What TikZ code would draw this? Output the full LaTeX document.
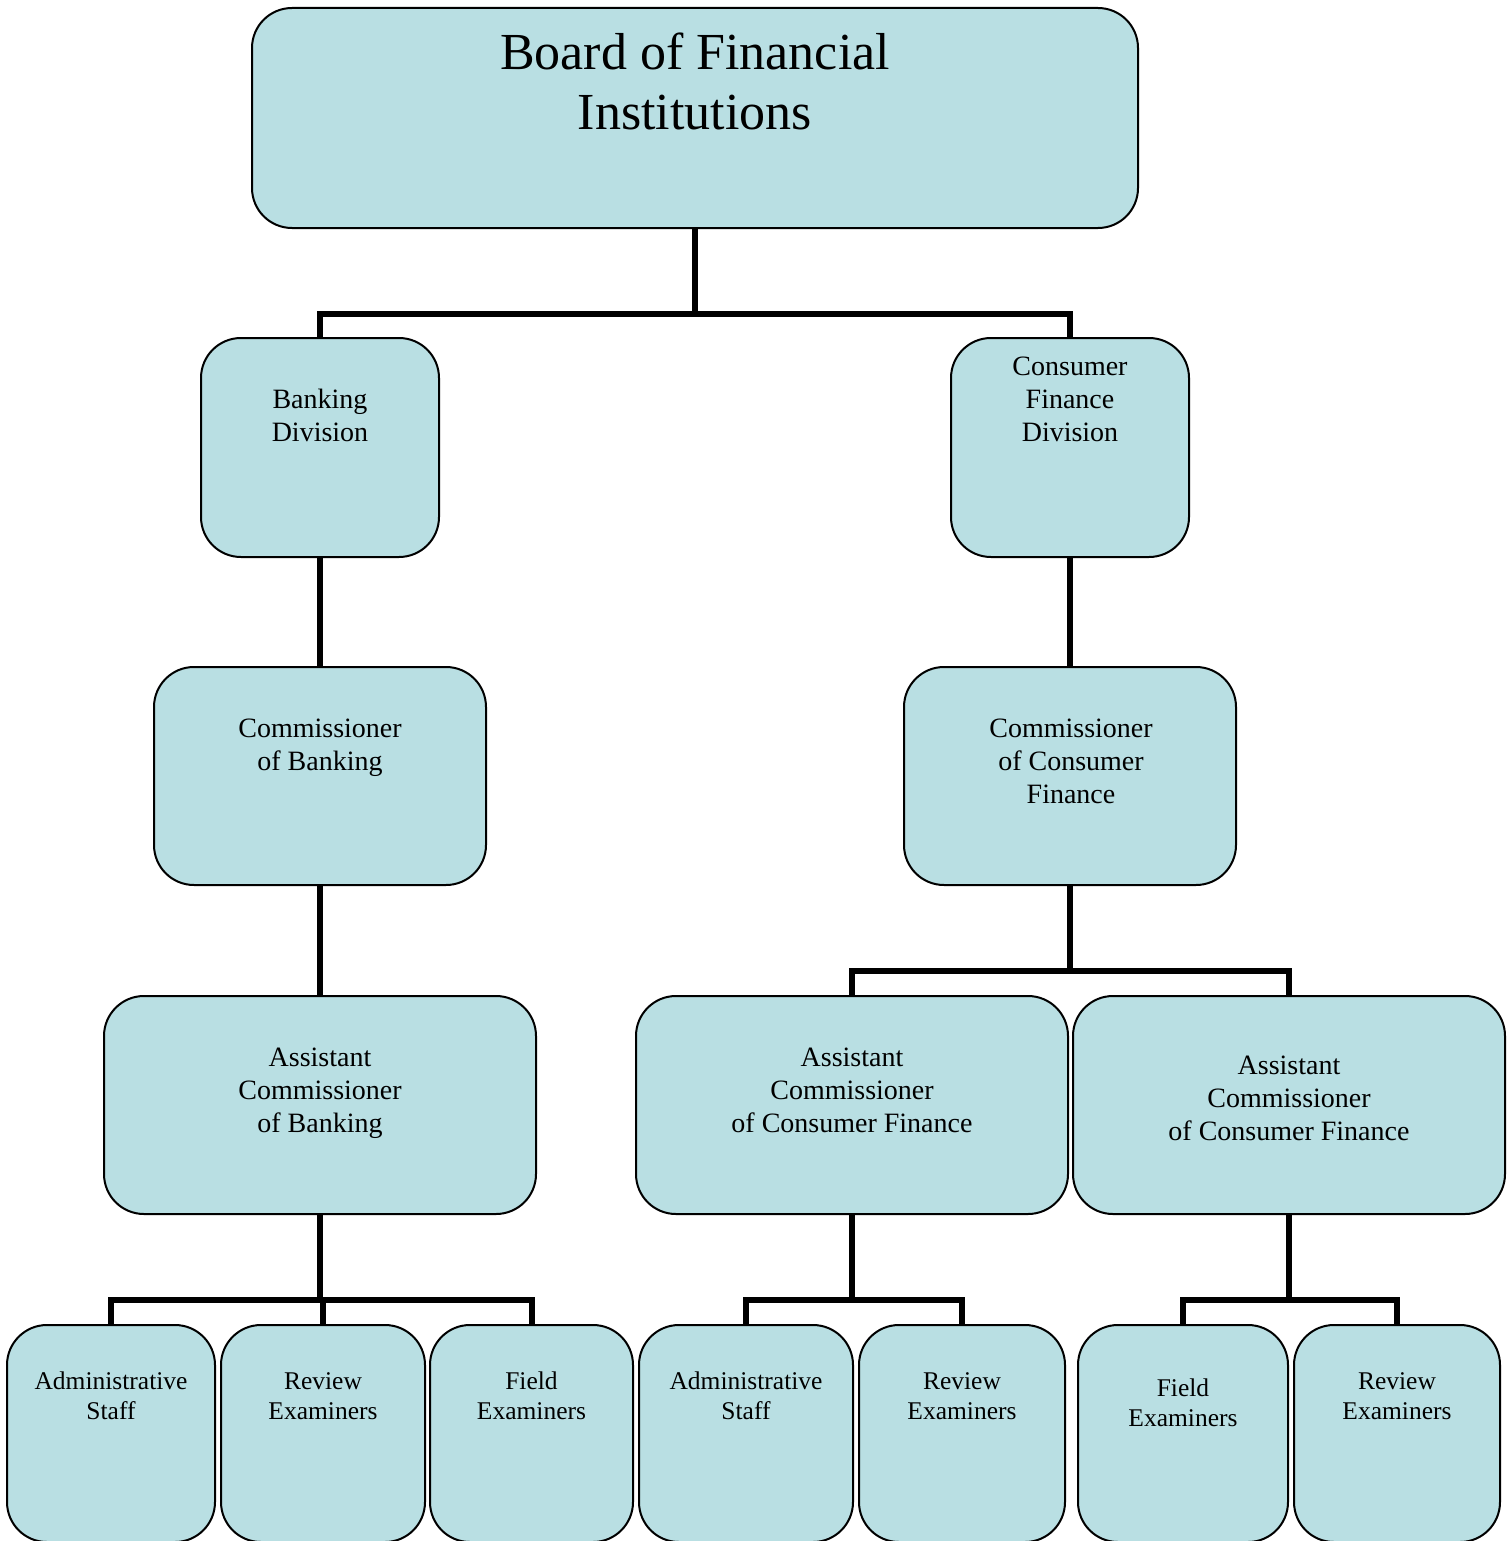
\documentclass[tikz,border=0pt]{standalone}
\usepackage{fontspec}
\setmainfont{Liberation Serif}
\definecolor{boxfill}{HTML}{B9DFE3}
\tikzset{
  box/.style={draw=black, line width=2pt, fill=boxfill, rounded corners=40pt,
    inner sep=0pt, outer sep=0pt, rectangle},
  txt/.style={anchor=north, inner sep=0pt, align=center, text=black},
  bigtxt/.style={txt, font=\fontsize{52}{60}\selectfont},
  midtxt/.style={txt, font=\fontsize{28}{33}\selectfont},
  smalltxt/.style={txt, font=\fontsize{25.5}{30}\selectfont},
  conn/.style={draw=black, line width=6pt, line join=miter},
}
\begin{document}
\begin{tikzpicture}[x=1pt, y=-1pt]
\clip (0,0) rectangle (1508,1541);
\useasboundingbox (0,0) rectangle (1508,1541);
% boxes
\node[box, minimum width=886pt, minimum height=220pt] (board) at (695,118) {};
\node[box, minimum width=238pt, minimum height=219pt] (bank) at (320,447.5) {};
\node[box, minimum width=238pt, minimum height=219pt] (cons) at (1070,447.5) {};
\node[box, minimum width=332pt, minimum height=218pt] (comb) at (320,776) {};
\node[box, minimum width=332pt, minimum height=218pt] (comc) at (1070,776) {};
\node[box, minimum width=432pt, minimum height=218pt] (ab) at (320,1105) {};
\node[box, minimum width=432pt, minimum height=218pt] (acA) at (852,1105) {};
\node[box, minimum width=432pt, minimum height=218pt] (acB) at (1289,1105) {};
\node[box, minimum width=208pt, minimum height=217pt] (adm1) at (111,1433.5) {};
\node[box, minimum width=204pt, minimum height=217pt] (rev1) at (323,1433.5) {};
\node[box, minimum width=203pt, minimum height=217pt] (fld1) at (531.5,1433.5) {};
\node[box, minimum width=214pt, minimum height=217pt] (adm2) at (746,1433.5) {};
\node[box, minimum width=206pt, minimum height=217pt] (rev2) at (962,1433.5) {};
\node[box, minimum width=210pt, minimum height=217pt] (fld2) at (1183,1433.5) {};
\node[box, minimum width=206pt, minimum height=217pt] (rev3) at (1397,1433.5) {};
% texts
\node[bigtxt] (boardT) at (695,27) {\strut Board of Financial\\Institutions};
\node[midtxt] (bankT) at (320,385) {\strut Banking\\Division};
\node[midtxt] (consT) at (1070,352) {\strut Consumer\\Finance\\Division};
\node[midtxt] (combT) at (320,714) {\strut Commissioner\\of Banking};
\node[midtxt] (comcT) at (1071,714) {\strut Commissioner\\of Consumer\\Finance};
\node[midtxt] (abT) at (320,1043) {\strut Assistant\\Commissioner\\of Banking};
\node[midtxt] (acAT) at (852,1043) {\strut Assistant\\Commissioner\\of Consumer Finance};
\node[midtxt] (acBT) at (1289,1051) {\strut Assistant\\Commissioner\\of Consumer Finance};
\node[smalltxt] (adm1T) at (111,1368) {\strut Administrative\\Staff};
\node[smalltxt] (rev1T) at (323,1368) {\strut Review\\Examiners};
\node[smalltxt] (fld1T) at (531.5,1368) {\strut Field\\Examiners};
\node[smalltxt] (adm2T) at (746,1368) {\strut Administrative\\Staff};
\node[smalltxt] (rev2T) at (962,1368) {\strut Review\\Examiners};
\node[smalltxt] (fld2T) at (1183,1375) {\strut Field\\Examiners};
\node[smalltxt] (rev3T) at (1397,1368) {\strut Review\\Examiners};
% junctions
\coordinate (j1) at (695,313.5);
\coordinate (j2) at (1070,971);
\coordinate (j3) at (320,1300);
\coordinate (j4) at (852,1300);
\coordinate (j5) at (1289,1300);
% connectors
\draw[conn] (board.south) -- (j1);
\draw[conn] (bank.north) |- (j1) -| (cons.north);
\draw[conn] (bank.south) -- (comb.north);
\draw[conn] (comb.south) -- (ab.north);
\draw[conn] (cons.south) -- (comc.north);
\draw[conn] (comc.south) -- (j2);
\draw[conn] (acA.north) |- (j2) -| (acB.north);
\draw[conn] (ab.south) -- (j3);
\draw[conn] (adm1.north) |- (j3) -| (fld1.north);
\draw[conn] (rev1.north) -- (rev1.north |- j3);
\draw[conn] (acA.south) -- (j4);
\draw[conn] (adm2.north) |- (j4) -| (rev2.north);
\draw[conn] (acB.south) -- (j5);
\draw[conn] (fld2.north) |- (j5) -| (rev3.north);
\end{tikzpicture}
\end{document}
